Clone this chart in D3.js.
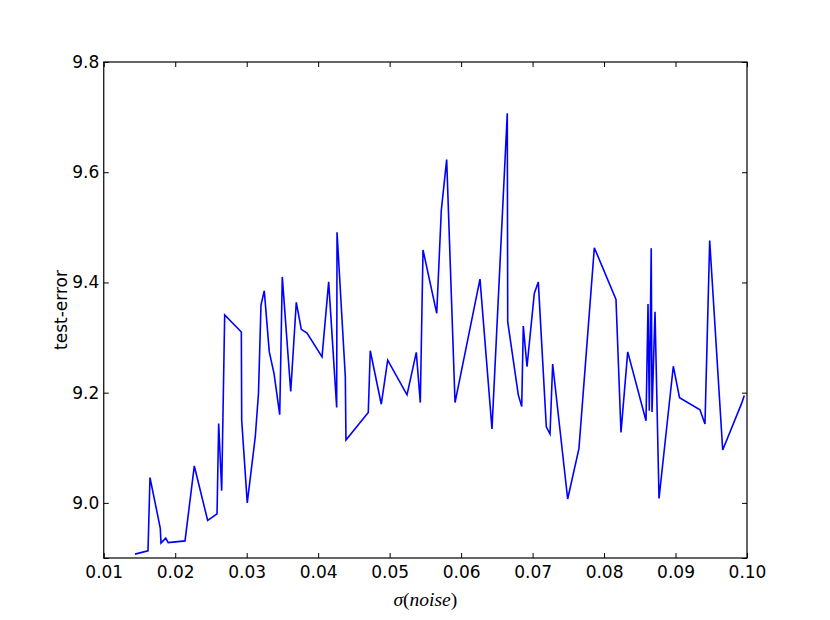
<!DOCTYPE html>
<html>
<head>
<meta charset="utf-8">
<script src="https://cdn.jsdelivr.net/npm/d3@7"></script>
<style>
  body { margin: 0; background: #fff; }
  svg text { font-family: "DejaVu Sans", sans-serif; }
</style>
</head>
<body>
<svg id="chart" width="830" height="620"></svg>
<script>
// sigma(noise) values, in the order they were plotted
let sigmas = [
  0.01437, 0.01619, 0.01647, 0.01791, 0.01801, 0.01867, 0.01902, 0.02137, 0.02267, 0.02454,
  0.02585, 0.02608, 0.02650, 0.02692, 0.02925, 0.02930, 0.03008, 0.03120, 0.03165, 0.03200,
  0.03246, 0.03316, 0.03382, 0.03462, 0.03498, 0.03616, 0.03694, 0.03764, 0.03844, 0.04054,
  0.04147, 0.04259, 0.04264, 0.04380, 0.04389, 0.04701, 0.04729, 0.04883, 0.04973, 0.05243,
  0.05373, 0.05429, 0.05467, 0.05659, 0.05723, 0.05798, 0.05915, 0.06264, 0.06432, 0.06646,
  0.06652, 0.06800, 0.06848, 0.06870, 0.06922, 0.07024, 0.07080, 0.07192, 0.07244, 0.07281,
  0.07491, 0.07649, 0.07864, 0.08167, 0.08237, 0.08331, 0.08587, 0.08615, 0.08633, 0.08660,
  0.08671, 0.08713, 0.08769, 0.08969, 0.09056, 0.09342, 0.09412, 0.09478, 0.09660, 0.09926,
  0.09962
];
let testErrors = [
  8.907, 8.913, 9.046, 8.954, 8.927, 8.936, 8.928, 8.931, 9.067, 8.968,
  8.980, 9.144, 9.022, 9.341, 9.310, 9.150, 9.000, 9.120, 9.199, 9.359,
  9.385, 9.274, 9.235, 9.160, 9.410, 9.202, 9.364, 9.315, 9.308, 9.265,
  9.401, 9.173, 9.491, 9.229, 9.114, 9.164, 9.276, 9.179, 9.259, 9.196,
  9.273, 9.182, 9.459, 9.344, 9.531, 9.623, 9.182, 9.406, 9.134, 9.707,
  9.329, 9.196, 9.175, 9.321, 9.247, 9.380, 9.401, 9.138, 9.125, 9.252,
  9.007, 9.099, 9.463, 9.369, 9.128, 9.274, 9.149, 9.361, 9.167, 9.462,
  9.165, 9.347, 9.008, 9.248, 9.191, 9.169, 9.143, 9.476, 9.096, 9.181,
  9.195
];
let xTicks = [0.01, 0.02, 0.03, 0.04, 0.05, 0.06, 0.07, 0.08, 0.09, 0.10];
let yTicks = [8.9, 9.0, 9.2, 9.4, 9.6, 9.8];
let yLabelled = [9.0, 9.2, 9.4, 9.6, 9.8];

let width = 830,
    height = 620,
    margin = { left: 103.75, right: 83, top: 62, bottom: 62 };

let svg = d3.select('#chart');
let x = d3.scaleLinear().domain([0.01, 0.10]).range([margin.left, width - margin.right]);
let y = d3.scaleLinear().domain([8.9, 9.8]).range([height - margin.bottom, margin.top]);

let points = sigmas.map(function (s, i) { return [s, testErrors[i]]; });

// the line
let line = d3.line()
    .x(function (d) { return x(d[0]); })
    .y(function (d) { return y(d[1]); });

svg.append('path')
    .datum(points)
    .attr('d', line)
    .attr('fill', 'none')
    .attr('stroke', '#0000ff')
    .attr('stroke-width', 1.6)
    .attr('stroke-linejoin', 'miter');

// axes, ticks pointing inwards on all four sides
let fmtX = d3.format('.2f'),
    fmtY = d3.format('.1f');
let tickLen = 5;

let bottomAxis = d3.axisBottom(x).tickValues(xTicks).tickSizeInner(-tickLen).tickSizeOuter(0)
    .tickPadding(7.5).tickFormat(fmtX);
let topAxis = d3.axisTop(x).tickValues(xTicks).tickSizeInner(-tickLen).tickSizeOuter(0)
    .tickFormat('');
let leftAxis = d3.axisLeft(y).tickValues(yTicks).tickSizeInner(-tickLen).tickSizeOuter(0)
    .tickPadding(4.5)
    .tickFormat(function (d) { return yLabelled.indexOf(d) >= 0 ? fmtY(d) : ''; });
let rightAxis = d3.axisRight(y).tickValues(yTicks).tickSizeInner(-tickLen).tickSizeOuter(0)
    .tickFormat('');

let gx = svg.append('g').attr('transform', 'translate(0,' + (height - margin.bottom) + ')').call(bottomAxis);
let gt = svg.append('g').attr('transform', 'translate(0,' + margin.top + ')').call(topAxis);
let gy = svg.append('g').attr('transform', 'translate(' + margin.left + ',0)').call(leftAxis);
let gr = svg.append('g').attr('transform', 'translate(' + (width - margin.right) + ',0)').call(rightAxis);

[gx, gt, gy, gr].forEach(function (g) {
    g.select('.domain').remove();
    g.selectAll('.tick line').attr('stroke', '#000').attr('stroke-width', 1);
    g.selectAll('.tick text')
        .attr('fill', '#000')
        .style('font-family', '"DejaVu Sans", sans-serif')
        .style('font-size', '17px');
});

// frame
svg.append('rect')
    .attr('x', margin.left)
    .attr('y', margin.top)
    .attr('width', width - margin.left - margin.right)
    .attr('height', height - margin.top - margin.bottom)
    .attr('fill', 'none')
    .attr('stroke', '#000')
    .attr('stroke-width', 1.2);

// axis titles
let xTitle = svg.append('text')
    .attr('x', (margin.left + width - margin.right) / 2)
    .attr('y', 606)
    .attr('text-anchor', 'middle')
    .style('font-family', '"Liberation Serif", "DejaVu Serif", serif')
    .style('font-size', '19.5px');
xTitle.append('tspan').style('font-style', 'italic').text('σ');
xTitle.append('tspan').text('(');
xTitle.append('tspan').style('font-style', 'italic').text('noise');
xTitle.append('tspan').text(')');

svg.append('text')
    .attr('transform', 'translate(67,' + ((margin.top + height - margin.bottom) / 2) + ') rotate(-90)')
    .attr('text-anchor', 'middle')
    .style('font-size', '17px')
    .attr('fill', '#000')
    .text('test-error');
</script>
</body>
</html>
